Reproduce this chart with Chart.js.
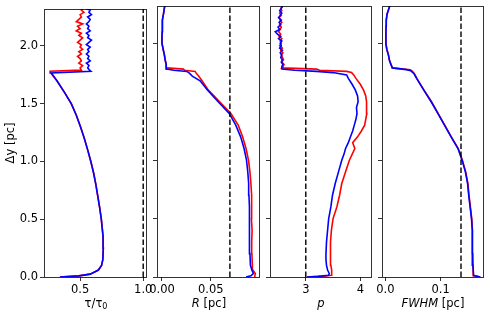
<!DOCTYPE html>
<html><head><meta charset="utf-8">
<script src="https://cdn.jsdelivr.net/npm/chart.js@4/dist/chart.umd.min.js"></script>
<style>
html,body{margin:0;padding:0;background:#fff;}
#wrap{position:relative;width:490px;height:316px;overflow:hidden;font-family:"DejaVu Sans",sans-serif;background:#fff;}
canvas{position:absolute;left:0;top:0;}
.xt{position:absolute;top:297px;font-size:11.5px;color:#000;transform:translateX(-50%);white-space:nowrap;line-height:13px;}
.xt sub{font-size:8px;vertical-align:-2px;line-height:0;}
</style></head><body>
<div id="wrap">
<canvas id="c1" width="490" height="316"></canvas>
<canvas id="c2" width="490" height="316"></canvas>
<canvas id="c3" width="490" height="316"></canvas>
<canvas id="c4" width="490" height="316"></canvas>
<div class="xt" style="left:96px">τ/τ<sub>0</sub></div>
<div class="xt" style="left:209px"><i>R</i> [pc]</div>
<div class="xt" style="left:321px"><i>p</i></div>
<div class="xt" style="left:433px"><i>FWHM</i> [pc]</div>
</div>
<script>
// ---- data ----
const yTicks = [0, 0.5, 1.0, 1.5, 2.0];
const yMax = 2.32;

const yTau = [0, 0.01, 0.025, 0.06, 0.1, 0.15, 0.25, 0.35, 0.5, 0.6, 0.7, 0.8, 0.9, 1.0, 1.1, 1.2, 1.3, 1.4, 1.5, 1.6, 1.7, 1.765, 1.78, 1.79,
  1.81, 1.83, 1.85, 1.87, 1.89, 1.91, 1.93, 1.95, 1.97, 1.99, 2.01, 2.03, 2.05, 2.07, 2.09, 2.11, 2.13, 2.15, 2.17, 2.19, 2.21, 2.23, 2.25, 2.27, 2.29, 2.31, 2.32];
const tauRed = [0.34, 0.49, 0.58, 0.645, 0.67, 0.68, 0.684, 0.682, 0.668, 0.655, 0.64, 0.625, 0.607, 0.585, 0.56, 0.533, 0.503, 0.47, 0.43, 0.375, 0.315, 0.268, 0.262, 0.51,
  0.50, 0.52, 0.49, 0.51, 0.50, 0.48, 0.51, 0.49, 0.52, 0.50, 0.51, 0.48, 0.50, 0.52, 0.49, 0.51, 0.47, 0.50, 0.48, 0.52, 0.47, 0.49, 0.51, 0.50, 0.53, 0.51, 0.52];
const tauBlue = [0.34, 0.49, 0.58, 0.645, 0.67, 0.68, 0.684, 0.682, 0.668, 0.655, 0.64, 0.625, 0.607, 0.585, 0.56, 0.533, 0.503, 0.47, 0.43, 0.375, 0.315, 0.272, 0.585, 0.575,
  0.56, 0.57, 0.55, 0.58, 0.56, 0.57, 0.55, 0.57, 0.56, 0.58, 0.55, 0.57, 0.59, 0.56, 0.57, 0.55, 0.58, 0.56, 0.57, 0.55, 0.57, 0.58, 0.56, 0.59, 0.57, 0.58, 0.55];
const tauRef = 1.0;
const tauTicks = [0.5, 1.0];

const yR = [0, 0.01, 0.03, 0.06, 0.1, 0.2, 0.3, 0.4, 0.5, 0.6, 0.7, 0.8, 0.9, 1.0, 1.1, 1.2, 1.3, 1.4, 1.5, 1.6, 1.68, 1.72, 1.745, 1.76, 1.77, 1.78, 1.79, 1.82, 1.86, 1.9, 1.95, 2.0, 2.05, 2.1, 2.15, 2.2, 2.25, 2.32];
const rRed = [0.0945, 0.095, 0.0955, 0.093, 0.0925, 0.092, 0.0918, 0.0922, 0.0915, 0.092, 0.0915, 0.091, 0.090, 0.0885, 0.086, 0.0825, 0.078, 0.0705, 0.059, 0.0475, 0.041, 0.0375, 0.035, 0.034, 0.023, 0.022, 0.005, 0.0042, 0.0032, 0.0025, 0.0012, 0.0, 0.0, 0.0002, 0.0003, 0.0005, 0.0015, 0.0028];
const rBlue = [0.086, 0.091, 0.0935, 0.092, 0.0905, 0.09, 0.0895, 0.0898, 0.0892, 0.0895, 0.089, 0.0887, 0.0878, 0.0865, 0.084, 0.0805, 0.0755, 0.0688, 0.0575, 0.0465, 0.039, 0.031, 0.028, 0.0254, 0.012, 0.0048, 0.0045, 0.0042, 0.0032, 0.0025, 0.0012, 0.0, 0.0, 0.0002, 0.0003, 0.0005, 0.0015, 0.0028];
const rRef = 0.0695;
const rTicks = [0.00, 0.05];

const yP = [0, 0.005, 0.015, 0.03, 0.06, 0.1, 0.15, 0.2, 0.3, 0.4, 0.5, 0.6, 0.7, 0.8, 0.9, 1.0, 1.05, 1.1, 1.15, 1.2, 1.25, 1.3, 1.35, 1.4, 1.45, 1.5, 1.55, 1.6, 1.65, 1.7, 1.73, 1.75, 1.76, 1.77, 1.78, 1.79,
  1.80, 1.82, 1.84, 1.86, 1.88, 1.90, 1.92, 1.94, 1.96, 1.98, 2.00, 2.02, 2.04, 2.06, 2.08, 2.10, 2.12, 2.14, 2.16, 2.18, 2.20, 2.22, 2.24, 2.26, 2.28, 2.30, 2.32];
const pRed = [3.02, 3.30, 3.47, 3.48, 3.47, 3.46, 3.45, 3.45, 3.46, 3.47, 3.50, 3.57, 3.62, 3.66, 3.73, 3.80, 3.85, 3.90, 3.86, 3.95, 4.02, 4.08, 4.10, 4.12, 4.11, 4.12, 4.10, 4.06, 4.00, 3.92, 3.88, 3.84, 3.75, 3.25, 3.20, 2.56,
  2.58, 2.60, 2.56, 2.59, 2.57, 2.55, 2.58, 2.54, 2.57, 2.52, 2.55, 2.53, 2.56, 2.51, 2.54, 2.50, 2.53, 2.55, 2.52, 2.56, 2.53, 2.51, 2.55, 2.52, 2.56, 2.54, 2.57];
const pBlue = [3.02, 3.22, 3.42, 3.43, 3.40, 3.38, 3.37, 3.37, 3.38, 3.40, 3.42, 3.46, 3.49, 3.54, 3.60, 3.66, 3.70, 3.73, 3.78, 3.82, 3.86, 3.89, 3.92, 3.94, 3.93, 3.96, 3.95, 3.91, 3.85, 3.78, 3.75, 3.50, 3.20, 2.80, 2.55, 2.56,
  2.56, 2.58, 2.55, 2.57, 2.54, 2.56, 2.53, 2.57, 2.52, 2.55, 2.53, 2.56, 2.50, 2.54, 2.48, 2.44, 2.52, 2.49, 2.54, 2.51, 2.55, 2.50, 2.53, 2.56, 2.52, 2.55, 2.58];
const pRef = 3;
const pTicks = [3, 4];

const yF = [0, 0.012, 0.1, 0.2, 0.3, 0.4, 0.5, 0.6, 0.7, 0.8, 0.9, 1.0, 1.1, 1.2, 1.3, 1.4, 1.5, 1.6, 1.7, 1.74, 1.765, 1.775, 1.79, 1.85, 1.9, 1.95, 2.0, 2.05, 2.1, 2.15, 2.2, 2.25, 2.32];
const fRed = [0.172, 0.1605, 0.159, 0.1585, 0.158, 0.1575, 0.1565, 0.154, 0.1515, 0.1495, 0.1455, 0.1395, 0.132, 0.1195, 0.1075, 0.0955, 0.0835, 0.070, 0.057, 0.0525, 0.048, 0.045, 0.0125, 0.0075, 0.0055, 0.0025, 0.0008, 0.0008, 0.001, 0.0012, 0.0015, 0.003, 0.0078];
const fBlue = [0.172, 0.160, 0.1585, 0.158, 0.1575, 0.157, 0.156, 0.1535, 0.151, 0.149, 0.145, 0.139, 0.1315, 0.119, 0.107, 0.095, 0.083, 0.0695, 0.0565, 0.052, 0.046, 0.038, 0.0125, 0.0075, 0.0055, 0.0025, 0.0008, 0.0008, 0.001, 0.0012, 0.0015, 0.003, 0.0078];
const fRef = 0.137;
const fTicks = [0.0, 0.1];

// ---- drawing ----
const FONT = {family: '"DejaVu Sans", sans-serif', size: 11.5};
const pts = (xs, ys) => xs.map((x, i) => ({x: x, y: ys[i]}));

const framePlugin = {
  id: 'frame',
  afterDatasetsDraw(chart) {
    const a = chart.chartArea, c = chart.ctx;
    c.save();
    c.strokeStyle = 'rgba(0,0,0,0.8)';
    c.lineWidth = 1;
    c.strokeRect(Math.round(a.left) + 0.5, Math.round(a.top) + 0.5, Math.round(a.right - a.left) - 1, Math.round(a.bottom - a.top));
    c.restore();
  }
};

function panel(id, cfg) {
  const ds = [
    {data: pts(cfg.red, cfg.ys), borderColor: '#ff0000', order: 3},
    {data: pts(cfg.blue, cfg.ys), borderColor: '#0000ff', order: 2},
    {data: pts([cfg.ref, cfg.ref], [0, yMax]), borderColor: '#000', borderDash: [5.5, 2.5], borderWidth: 1.4, order: 1}
  ];
  ds.forEach(d => { d.showLine = true; d.pointRadius = 0; d.fill = false; if (!d.borderWidth) d.borderWidth = 1.6; d.tension = 0; });
  new Chart(document.getElementById(id), {
    type: 'scatter',
    data: {datasets: ds},
    options: {
      responsive: false, animation: false, events: [], devicePixelRatio: 1,
      layout: {padding: {left: cfg.padL, right: cfg.padR, top: 6, bottom: 0}},
      plugins: {legend: {display: false}, tooltip: {enabled: false}},
      scales: {
        x: {
          type: 'linear', min: cfg.xmin, max: cfg.xmax,
          afterBuildTicks: s => { s.ticks = cfg.ticks.map(v => ({value: v})); },
          afterFit: s => { s.height = 39; },
          ticks: {autoSkip: false, maxRotation: 0, padding: 2, color: '#000', font: FONT, callback: cfg.fmt},
          grid: {drawOnChartArea: false, tickLength: 4, color: '#000', lineWidth: 0.8},
          border: {display: false}
        },
        y: {
          type: 'linear', min: 0, max: yMax,
          afterBuildTicks: s => { s.ticks = yTicks.map(v => ({value: v})); },
          afterFit: s => { s.width = cfg.yW; },
          ticks: {display: cfg.showY, autoSkip: false, padding: 2, color: '#000', font: FONT, callback: v => Number(v).toFixed(1)},
          grid: {drawOnChartArea: false, tickLength: 4, color: '#000', lineWidth: 0.8},
          border: {display: false},
          title: {display: cfg.showY, text: 'Δy [pc]', color: '#000', font: FONT, padding: {top: 4, bottom: 0}}
        }
      }
    },
    plugins: [framePlugin]
  });
}

panel('c1', {ys: yTau, red: tauRed, blue: tauBlue, ref: tauRef, ticks: tauTicks, xmin: 0.214, xmax: 1.03, fmt: v => Number(v).toFixed(1), padL: 0, padR: 343, yW: 44, showY: true});
panel('c2', {ys: yR, red: rRed, blue: rBlue, ref: rRef, ticks: rTicks, xmin: -0.0051, xmax: 0.1003, fmt: v => Number(v).toFixed(2), padL: 152, padR: 230, yW: 5, showY: false});
panel('c3', {ys: yP, red: pRed, blue: pBlue, ref: pRef, ticks: pTicks, xmin: 2.343, xmax: 4.215, fmt: v => String(Math.round(v)), padL: 265, padR: 118, yW: 5, showY: false});
panel('c4', {ys: yF, red: fRed, blue: fBlue, ref: fRef, ticks: fTicks, xmin: -0.0062, xmax: 0.1787, fmt: v => Number(v).toFixed(1), padL: 377, padR: 6, yW: 5, showY: false});
</script>
</body></html>
